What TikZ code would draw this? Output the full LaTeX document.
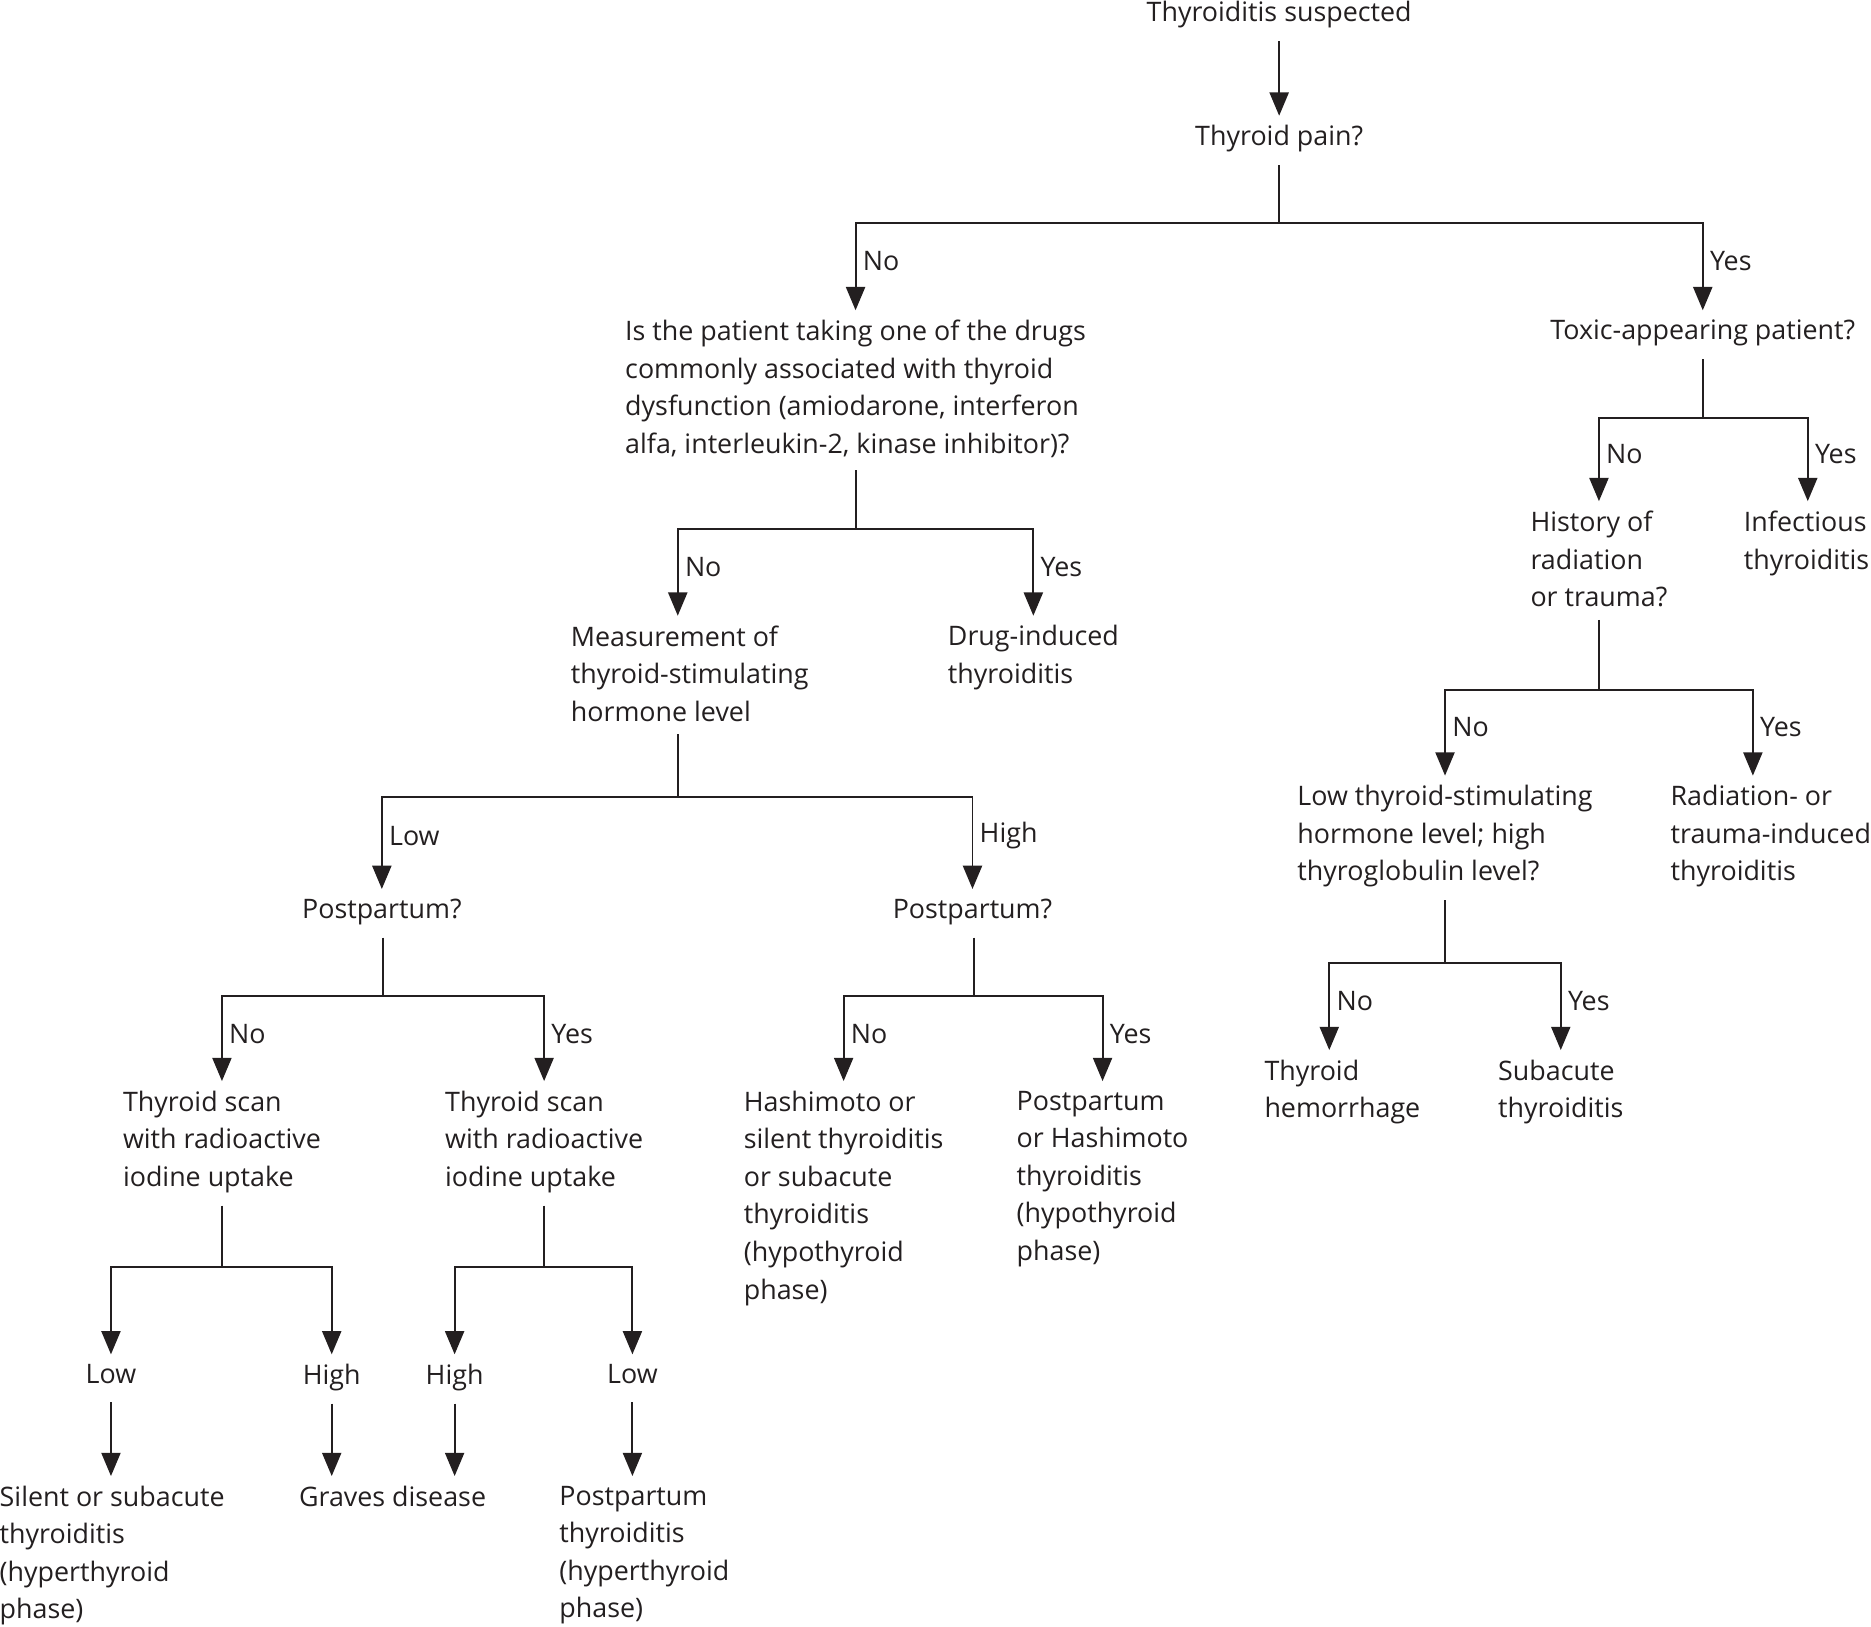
\documentclass[tikz,border=0pt]{standalone}
\usepackage{fontspec}
\setmainfont{Open Sans}
\usetikzlibrary{arrows.meta}
\definecolor{ink}{RGB}{35,31,32}

\begin{document}
\begin{tikzpicture}[x=0.2mm,y=-0.2mm,>={Triangle[length=3.9mm,width=3.2mm]},
  txt/.style={anchor=north,align=left,inner xsep=2.5pt,inner ysep=4.5pt,text=ink,
              font=\fontsize{12.8pt}{17.9pt}\selectfont},
  lvl/.style={txt,text depth=0.3em},
  lbl/.style={anchor=west,inner sep=3pt,text=ink,
              font=\fontsize{12.8pt}{17.9pt}\selectfont},
  stem/.style={draw=ink,line width=0.9pt,shorten <=0.5mm},
  arr/.style={->,draw=ink,line width=0.9pt}]
\useasboundingbox (0,0) rectangle (1568,1363);
% question and outcome nodes
\node[txt] (top) at (1072,-7) {Thyroiditis suspected};
\node[txt] (pain) at (1072,97) {Thyroid pain?};
\node[txt] (drugq) at (717,260) {Is the patient taking one of the drugs\\commonly
  associated with thyroid\\dysfunction (amiodarone, interferon\\alfa,
  interleukin-2, kinase inhibitor)?};
\node[txt] (toxic) at (1427,260) {Toxic-appearing patient?};
\node[txt] (tsh) at (578,516) {Measurement of\\thyroid-stimulating\\hormone level};
\node[txt] (drug) at (866,516) {Drug-induced\\thyroiditis};
\node[txt] (hist) at (1340,420) {History of\\radiation\\or trauma?};
\node[txt] (infect) at (1514,420) {Infectious\\thyroiditis};
\node[txt] (lowtsh) at (1211,650) {Low thyroid-stimulating\\hormone level; high\\thyroglobulin level?};
\node[txt] (radtr) at (1484,650) {Radiation- or\\trauma-induced\\thyroiditis};
\node[txt] (hem) at (1125,880) {Thyroid\\hemorrhage};
\node[txt] (subac) at (1308,880) {Subacute\\thyroiditis};
\node[txt] (ppA) at (320,745) {Postpartum?};
\node[txt] (ppB) at (815,745) {Postpartum?};
\node[txt] (scanA) at (186,906) {Thyroid scan\\with radioactive\\iodine uptake};
\node[txt] (scanB) at (456,906) {Thyroid scan\\with radioactive\\iodine uptake};
\node[txt] (hashi) at (707,906) {Hashimoto or\\silent thyroiditis\\or subacute\\thyroiditis\\(hypothyroid\\phase)};
\node[txt] (pphashi) at (924,906) {Postpartum\\or Hashimoto\\thyroiditis\\(hypothyroid\\phase)};
\node[lvl] (lowA) at (93,1135) {Low};
\node[lvl] (highA) at (278,1135) {High};
\node[lvl] (highB) at (381,1135) {High};
\node[lvl] (lowB) at (530,1135) {Low};
\node[txt] (silent) at (94,1237) {Silent or subacute\\thyroiditis\\(hyperthyroid\\phase)};
\node[txt] (graves) at (329,1237) {Graves disease};
\node[txt] (ppthy) at (540,1237) {Postpartum\\thyroiditis\\(hyperthyroid\\phase)};
% branch points
\coordinate (j1) at (1072,187);
\coordinate (j2) at (717,443);
\coordinate (j3) at (568,668);
\coordinate (j4) at (321,835);
\coordinate (j5) at (816,835);
\coordinate (j6) at (186,1062);
\coordinate (j7) at (456,1062);
\coordinate (j8) at (1427,350);
\coordinate (j9) at (1340,578);
\coordinate (j10) at (1211,807);
% connectors
\draw[arr,shorten <=0.5mm] (top) -- (pain);
\draw[stem] (pain.south -| j1) -- (j1);
\draw[arr] (j1) -| node[lbl,pos=0.72] (n1) {No} (drugq.north);
\draw[arr] (j1) -| node[lbl,pos=0.72] (y1) {Yes} (toxic.north);
\draw[stem] (drugq.south -| j2) -- (j2);
\draw[arr] (j2) -| node[lbl,pos=0.72] (n2) {No} ([xshift=-2mm]tsh.north);
\draw[arr] (j2) -| node[lbl,pos=0.72] (y2) {Yes} (drug.north);
\draw[stem] (tsh.south -| j3) -- (j3);
\draw[arr] (j3) -| node[lbl,pos=0.71] (lo3) {Low} (ppA.north);
\draw[arr] (j3) -| node[lbl,pos=0.71] (hi3) {High} (ppB.north);
\draw[stem] (ppA.south -| j4) -- (j4);
\draw[arr] (j4) -| node[lbl,pos=0.72] (n4) {No} (scanA.north);
\draw[arr] (j4) -| node[lbl,pos=0.72] (y4) {Yes} (scanB.north);
\draw[stem] (ppB.south -| j5) -- (j5);
\draw[arr] (j5) -| node[lbl,pos=0.72] (n5) {No} (hashi.north);
\draw[arr] (j5) -| node[lbl,pos=0.72] (y5) {Yes} (pphashi.north);
\draw[stem] (scanA.south -| j6) -- (j6);
\draw[arr] (j6) -| (lowA.north);
\draw[arr] (j6) -| (highA.north);
\draw[stem] (scanB.south -| j7) -- (j7);
\draw[arr] (j7) -| (highB.north);
\draw[arr] (j7) -| (lowB.north);
\draw[arr,shorten <=0.5mm] (lowA) -- (lowA |- silent.north);
\draw[arr,shorten <=0.5mm] (highA) -- (highA |- graves.north);
\draw[arr,shorten <=0.5mm] (highB) -- (highB |- graves.north);
\draw[arr,shorten <=0.5mm] (lowB) -- (lowB |- ppthy.north);
\draw[stem] (toxic.south -| j8) -- (j8);
\draw[arr] (j8) -| node[lbl,pos=0.72] (n8) {No} (hist.north);
\draw[arr] (j8) -| node[lbl,pos=0.72] (y8) {Yes} ([xshift=0.2mm]infect.north);
\draw[stem] (hist.south -| j9) -- (j9);
\draw[arr] (j9) -| node[lbl,pos=0.72] (n9) {No} (lowtsh.north);
\draw[arr] (j9) -| node[lbl,pos=0.72] (y9) {Yes} ([xshift=-3mm]radtr.north);
\draw[stem] (lowtsh.south -| j10) -- (j10);
\draw[arr] (j10) -| node[lbl,pos=0.72] (n10) {No} ([xshift=-2.2mm]hem.north);
\draw[arr] (j10) -| node[lbl,pos=0.72] (y10) {Yes} (subac.north);
\end{tikzpicture}
\end{document}
